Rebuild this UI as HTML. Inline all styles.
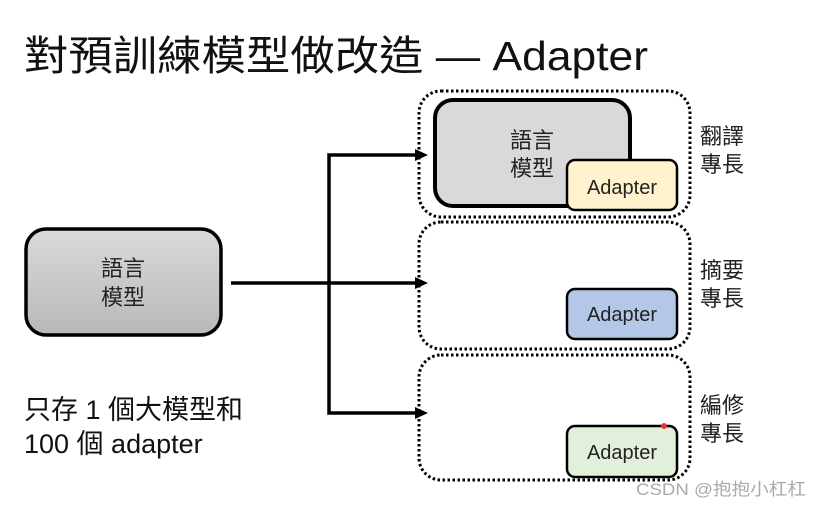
<!DOCTYPE html>
<html><head><meta charset="utf-8"><style>
body{margin:0;background:#fff;}
svg text{font-family:"Liberation Sans","Noto Sans CJK TC",sans-serif;}
</style></head><body>
<svg width="821" height="506" viewBox="0 0 821 506" xmlns="http://www.w3.org/2000/svg">
<defs>
<linearGradient id="g" x1="0" y1="0" x2="0" y2="1"><stop offset="0" stop-color="#dadada"/><stop offset="1" stop-color="#b8b8b8"/></linearGradient>
</defs>
<text x="24" y="70" font-size="41" fill="#111" textLength="624" lengthAdjust="spacingAndGlyphs">對預訓練模型做改造 — Adapter</text>
<rect x="26" y="229" width="195" height="106" rx="20" fill="url(#g)" stroke="#000" stroke-width="3.5"/>
<text x="123" y="276" font-size="22" text-anchor="middle" fill="#222">語言</text>
<text x="123" y="305" font-size="22" text-anchor="middle" fill="#222">模型</text>
<g stroke="#000" stroke-width="3.5" fill="none">
<line x1="231" y1="283" x2="418" y2="283"/>
<polyline points="418,155 329,155 329,413 418,413"/>
</g>
<g fill="#000">
<path d="M415,149 L428,155 L415,161z"/>
<path d="M415,277 L428,283 L415,289z"/>
<path d="M415,407 L428,413 L415,419z"/>
</g>
<g fill="none" stroke="#000" stroke-width="3" stroke-dasharray="2.5,2.5">
<rect x="419" y="91" width="271" height="126" rx="22"/>
<rect x="419" y="222" width="271" height="127" rx="22"/>
<rect x="419" y="355" width="271" height="125" rx="22"/>
</g>
<rect x="435" y="100" width="195" height="106" rx="18" fill="#d9d9d9" stroke="#000" stroke-width="4"/>
<text x="532" y="148" font-size="22" text-anchor="middle" fill="#222">語言</text>
<text x="532" y="176" font-size="22" text-anchor="middle" fill="#222">模型</text>
<rect x="567" y="160" width="110" height="50" rx="8" fill="#fff2cc" stroke="#000" stroke-width="2.5"/>
<text x="622" y="194" font-size="20" text-anchor="middle" fill="#222">Adapter</text>
<rect x="567" y="289" width="110" height="50" rx="8" fill="#b4c7e7" stroke="#000" stroke-width="2.5"/>
<text x="622" y="321" font-size="20" text-anchor="middle" fill="#222">Adapter</text>
<rect x="567" y="426" width="110" height="51" rx="8" fill="#e2efda" stroke="#000" stroke-width="2.5"/>
<text x="622" y="459" font-size="20" text-anchor="middle" fill="#222">Adapter</text>
<circle cx="664" cy="426" r="3" fill="#e33"/>
<g font-size="22" fill="#222">
<text x="700" y="144">翻譯</text><text x="700" y="172">專長</text>
<text x="700" y="278">摘要</text><text x="700" y="306">專長</text>
<text x="700" y="413">編修</text><text x="700" y="441">專長</text>
</g>
<text x="24" y="419" font-size="27" fill="#111">只存 1 個大模型和</text>
<text x="24" y="453" font-size="27" fill="#111">100 個 adapter</text>
<text x="636" y="495" font-size="17" fill="#aaa" textLength="170" lengthAdjust="spacingAndGlyphs">CSDN @抱抱小杠杠</text>
</svg>
</body></html>
